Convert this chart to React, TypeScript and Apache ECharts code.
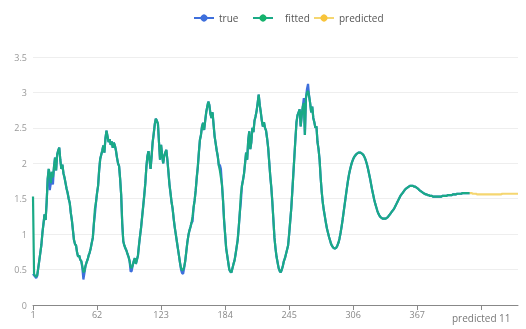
import React, { useEffect, useRef } from 'react';
import * as echarts from 'echarts';

const trueValues: number[] = [
  0.44, 0.42, 0.40, 0.38, 0.41, 0.52, 0.63, 0.74, 0.85, 1.02, 1.15, 1.28, 1.20, 1.45, 1.78, 1.92, 1.62,
  1.72, 1.88, 1.70, 1.95, 2.08, 1.90, 2.12, 2.18, 2.22, 2.05, 1.92, 1.98, 1.86, 1.80, 1.72, 1.64, 1.58, 1.50, 1.44, 1.30, 1.20, 1.06, 0.92, 0.86,
  0.84, 0.74, 0.68, 0.70, 0.64, 0.62, 0.52, 0.36, 0.45, 0.55, 0.60,
  0.64, 0.70, 0.74, 0.80, 0.88, 0.95, 1.15, 1.28, 1.45, 1.58, 1.68, 1.90, 2.06, 2.12, 2.18, 2.25, 2.15, 2.35, 2.46,
  2.38, 2.30, 2.34, 2.26, 2.31, 2.22, 2.29, 2.25, 2.18, 2.08, 2.00, 1.96, 1.78, 1.55, 1.15, 0.90, 0.84, 0.80, 0.77, 0.72, 0.68, 0.62, 0.47, 0.48,
  0.56, 0.62, 0.66, 0.58, 0.64, 0.70, 0.85, 0.98,
  1.10, 1.25, 1.40, 1.55, 1.72, 1.95, 2.10, 2.17, 2.05, 1.92, 2.10, 2.30, 2.42, 2.55, 2.63, 2.60, 2.56, 2.30, 2.05, 2.26, 2.12, 2.00, 2.10, 2.15, 2.19, 2.05, 1.88, 1.70, 1.58, 1.45, 1.36, 1.22, 1.10, 1.00, 0.90, 0.80, 0.70, 0.60, 0.50, 0.45, 0.44, 0.52, 0.62,
  0.75, 0.88, 0.98, 1.05, 1.10, 1.16, 1.18, 1.38, 1.48, 1.62, 1.80, 1.95, 2.15, 2.33, 2.40, 2.52, 2.57, 2.47, 2.60, 2.72, 2.80, 2.87, 2.82, 2.70, 2.64, 2.72, 2.55, 2.38, 2.28, 2.18, 2.10, 1.97, 1.98, 1.92, 1.70, 1.48, 1.20, 1.00, 0.80, 0.70, 0.60, 0.50, 0.47, 0.46, 0.52, 0.58, 0.63, 0.72, 0.82, 0.92,
  1.10, 1.30, 1.45, 1.68, 1.76, 1.85, 2.00, 2.15, 2.05, 2.32, 2.45, 2.20, 2.30, 2.50, 2.44, 2.60, 2.66, 2.74, 2.85, 2.97, 2.82, 2.72, 2.60, 2.52, 2.58, 2.50, 2.46, 2.35, 2.22, 2.02, 1.82, 1.66, 1.45, 1.20, 0.95, 0.80, 0.68, 0.60, 0.52, 0.48, 0.46, 0.50, 0.55, 0.62, 0.66, 0.72, 0.78, 0.84,
  1.00, 1.18, 1.36, 1.60, 1.85, 2.10, 2.35, 2.58, 2.68, 2.72, 2.76, 2.52, 2.68, 2.80, 2.92, 2.40, 2.92, 3.05, 3.12, 2.95, 2.85, 2.72, 2.80, 2.64, 2.58, 2.50, 2.52, 2.30, 2.20, 2.05, 1.80, 1.60,
  1.45, 1.34, 1.25, 1.16, 1.08, 1.02, 0.96, 0.91, 0.86, 0.83, 0.81, 0.80, 0.80, 0.81,
  0.84, 0.88, 0.94, 1.02, 1.11, 1.21, 1.32, 1.43, 1.54, 1.65, 1.75, 1.84, 1.91, 1.97, 2.02, 2.06, 2.09, 2.11, 2.13, 2.14,
  2.15, 2.15, 2.15, 2.14, 2.13, 2.11, 2.08, 2.04, 1.99, 1.93, 1.86, 1.79, 1.71, 1.63, 1.56, 1.49, 1.43, 1.38, 1.33, 1.29,
  1.26, 1.24, 1.23, 1.22, 1.22, 1.22, 1.22, 1.23, 1.24, 1.26, 1.28, 1.30, 1.32, 1.34, 1.36, 1.39, 1.42, 1.45, 1.48, 1.51,
  1.54, 1.56, 1.58, 1.60, 1.62, 1.64, 1.65, 1.66, 1.67, 1.68, 1.68, 1.68, 1.68, 1.67, 1.67, 1.66, 1.65, 1.64, 1.62, 1.61,
  1.60, 1.59, 1.58, 1.57, 1.56, 1.56, 1.55, 1.55, 1.54, 1.54, 1.54, 1.53, 1.53, 1.53, 1.53, 1.53, 1.53, 1.53, 1.53, 1.53,
  1.54, 1.54, 1.54, 1.54, 1.54, 1.55, 1.55, 1.55, 1.55, 1.55, 1.56, 1.56, 1.56, 1.56, 1.57, 1.57, 1.57, 1.57, 1.57, 1.58, 1.58, 1.58, 1.58, 1.58, 1.58, 1.58, 1.58,
];

const fittedValues: number[] = [
  1.53, 0.44, 0.41, 0.40, 0.42, 0.52, 0.63, 0.74, 0.85, 1.02, 1.15, 1.28, 1.20, 1.45, 1.78, 1.92, 1.85,
  1.72, 1.88, 1.80, 1.95, 2.08, 1.90, 2.12, 2.18, 2.22, 2.05, 1.92, 1.98, 1.86, 1.80, 1.72, 1.64, 1.58, 1.50, 1.44, 1.30, 1.20, 1.06, 0.92, 0.86,
  0.84, 0.74, 0.68, 0.70, 0.64, 0.62, 0.55, 0.46, 0.48, 0.55, 0.60,
  0.64, 0.70, 0.74, 0.80, 0.88, 0.95, 1.15, 1.36, 1.45, 1.58, 1.68, 1.90, 2.06, 2.12, 2.18, 2.25, 2.15, 2.35, 2.46,
  2.38, 2.30, 2.34, 2.26, 2.31, 2.22, 2.29, 2.25, 2.18, 2.08, 2.00, 1.96, 1.78, 1.55, 1.15, 0.90, 0.84, 0.80, 0.77, 0.72, 0.68, 0.62, 0.54, 0.52,
  0.56, 0.62, 0.66, 0.58, 0.64, 0.70, 0.85, 0.98,
  1.10, 1.25, 1.40, 1.55, 1.72, 1.95, 2.10, 2.17, 2.05, 1.92, 2.10, 2.30, 2.42, 2.55, 2.63, 2.60, 2.56, 2.30, 2.05, 2.26, 2.12, 2.00, 2.10, 2.15, 2.19, 2.05, 1.88, 1.70, 1.58, 1.45, 1.36, 1.22, 1.10, 1.00, 0.90, 0.80, 0.70, 0.60, 0.52, 0.49, 0.50, 0.54, 0.62,
  0.75, 0.88, 0.98, 1.05, 1.10, 1.16, 1.25, 1.38, 1.48, 1.62, 1.80, 1.95, 2.15, 2.33, 2.40, 2.52, 2.57, 2.47, 2.60, 2.72, 2.80, 2.87, 2.82, 2.70, 2.64, 2.72, 2.55, 2.38, 2.28, 2.18, 2.10, 1.97, 1.90, 1.80, 1.70, 1.48, 1.20, 1.00, 0.80, 0.70, 0.60, 0.50, 0.47, 0.46, 0.52, 0.58, 0.63, 0.72, 0.82, 0.92,
  1.10, 1.30, 1.55, 1.68, 1.76, 1.85, 2.00, 2.15, 2.05, 2.32, 2.45, 2.20, 2.30, 2.50, 2.44, 2.60, 2.66, 2.74, 2.85, 2.97, 2.82, 2.72, 2.60, 2.52, 2.58, 2.50, 2.46, 2.35, 2.22, 2.02, 1.82, 1.66, 1.45, 1.20, 0.95, 0.80, 0.68, 0.60, 0.52, 0.48, 0.46, 0.50, 0.55, 0.62, 0.66, 0.72, 0.78, 0.84,
  1.00, 1.18, 1.36, 1.60, 1.85, 2.10, 2.35, 2.58, 2.68, 2.72, 2.76, 2.52, 2.68, 2.80, 2.85, 2.40, 2.92, 3.00, 3.02, 2.95, 2.85, 2.72, 2.80, 2.64, 2.58, 2.50, 2.52, 2.30, 2.20, 2.05, 1.80, 1.60,
  1.45, 1.34, 1.25, 1.16, 1.08, 1.02, 0.96, 0.91, 0.86, 0.83, 0.81, 0.80, 0.80, 0.81,
  0.84, 0.88, 0.94, 1.02, 1.11, 1.21, 1.32, 1.43, 1.54, 1.65, 1.75, 1.84, 1.91, 1.97, 2.02, 2.06, 2.09, 2.11, 2.13, 2.14,
  2.15, 2.15, 2.15, 2.14, 2.13, 2.11, 2.08, 2.04, 1.99, 1.93, 1.86, 1.79, 1.71, 1.63, 1.56, 1.49, 1.43, 1.38, 1.33, 1.29,
  1.26, 1.24, 1.23, 1.22, 1.22, 1.22, 1.22, 1.23, 1.24, 1.26, 1.28, 1.30, 1.32, 1.34, 1.36, 1.39, 1.42, 1.45, 1.48, 1.51,
  1.54, 1.56, 1.58, 1.60, 1.62, 1.64, 1.65, 1.66, 1.67, 1.68, 1.68, 1.68, 1.68, 1.67, 1.67, 1.66, 1.65, 1.64, 1.62, 1.61,
  1.60, 1.59, 1.58, 1.57, 1.56, 1.56, 1.55, 1.55, 1.54, 1.54, 1.54, 1.53, 1.53, 1.53, 1.53, 1.53, 1.53, 1.53, 1.53, 1.53,
  1.54, 1.54, 1.54, 1.54, 1.54, 1.55, 1.55, 1.55, 1.55, 1.55, 1.56, 1.56, 1.56, 1.56, 1.57, 1.57, 1.57, 1.57, 1.57, 1.58, 1.58, 1.58, 1.58, 1.58, 1.58, 1.58, 1.58,
];

const predictedValues: number[] = [
  1.58, 1.58, 1.57, 1.57, 1.57, 1.57, 1.56, 1.56, 1.56, 1.56, 1.56, 1.56, 1.56, 1.56, 1.56, 1.56,
  1.56, 1.56, 1.56, 1.56, 1.56, 1.56, 1.56, 1.56, 1.56, 1.56, 1.56, 1.56, 1.56, 1.56, 1.57, 1.57,
  1.57, 1.57, 1.57, 1.57, 1.57, 1.57, 1.57, 1.57, 1.57, 1.57, 1.57, 1.57, 1.57, 1.57,
];

const categories: string[] = [
  ...trueValues.map((_, i) => String(i + 1)),
  ...predictedValues.map((_, i) => 'predicted ' + (i + 1)),
];

const predictedSeries: (number | null)[] = [
  ...fittedValues.slice(0, fittedValues.length - 1).map(() => null),
  fittedValues[fittedValues.length - 1],
  ...predictedValues,
];

const FONT = "'Open Sans', 'Noto Sans', sans-serif";

export default function App() {
  const ref = useRef<HTMLDivElement>(null);
  useEffect(() => {
    const chart = echarts.init(ref.current!, null, { renderer: 'svg' });
    const legendBase = {
      top: 8,
      itemWidth: 20,
      itemHeight: 9,
      textStyle: { fontSize: 10, color: '#555', fontFamily: FONT },
    };
    chart.setOption({
      animation: false,
      textStyle: { fontFamily: FONT },
      legend: [
        { ...legendBase, left: 188, data: ['true'] },
        { ...legendBase, left: 247, data: ['fitted'], textStyle: { ...legendBase.textStyle, padding: [0, 0, 0, 7] } },
        { ...legendBase, left: 308, data: ['predicted'] },
      ],
      grid: { left: 33, right: 8, top: 57, bottom: 24 },
      xAxis: {
        type: 'category',
        data: categories,
        boundaryGap: false,
        axisLine: { lineStyle: { color: '#888' } },
        axisTick: { interval: 60, lineStyle: { color: '#888' } },
        axisLabel: {
          interval: 60,
          fontSize: 9,
          color: '#888',
          margin: 5,
          formatter: (v: string) => (v.indexOf('predicted') === 0 ? '{p|' + v + '}' : v),
          rich: { p: { fontSize: 10, color: '#777', padding: [3, 0, 0, 0] } },
        },
      },
      yAxis: {
        type: 'value',
        min: 0,
        max: 3.5,
        interval: 0.5,
        axisLabel: { fontSize: 9, color: '#999', margin: 6 },
        splitLine: { lineStyle: { color: '#eee' } },
      },
      series: [
        {
          name: 'true',
          type: 'line',
          data: trueValues,
          symbol: 'circle',
          showSymbol: false,
          itemStyle: { color: '#3e6fdc' },
          lineStyle: { width: 2.2, color: '#3e6fdc' },
        },
        {
          name: 'fitted',
          type: 'line',
          data: fittedValues,
          symbol: 'circle',
          showSymbol: false,
          itemStyle: { color: '#15b26c' },
          lineStyle: { width: 2.2, color: '#1aaa86' },
        },
        {
          name: 'predicted',
          type: 'line',
          data: predictedSeries,
          symbol: 'circle',
          showSymbol: false,
          itemStyle: { color: '#f8c43a' },
          lineStyle: { width: 2.2, color: '#f5d670' },
        },
      ],
    });
    return () => chart.dispose();
  }, []);
  return <div ref={ref} style={{ position: 'fixed', left: 0, top: 0, width: 526, height: 329 }} />;
}
